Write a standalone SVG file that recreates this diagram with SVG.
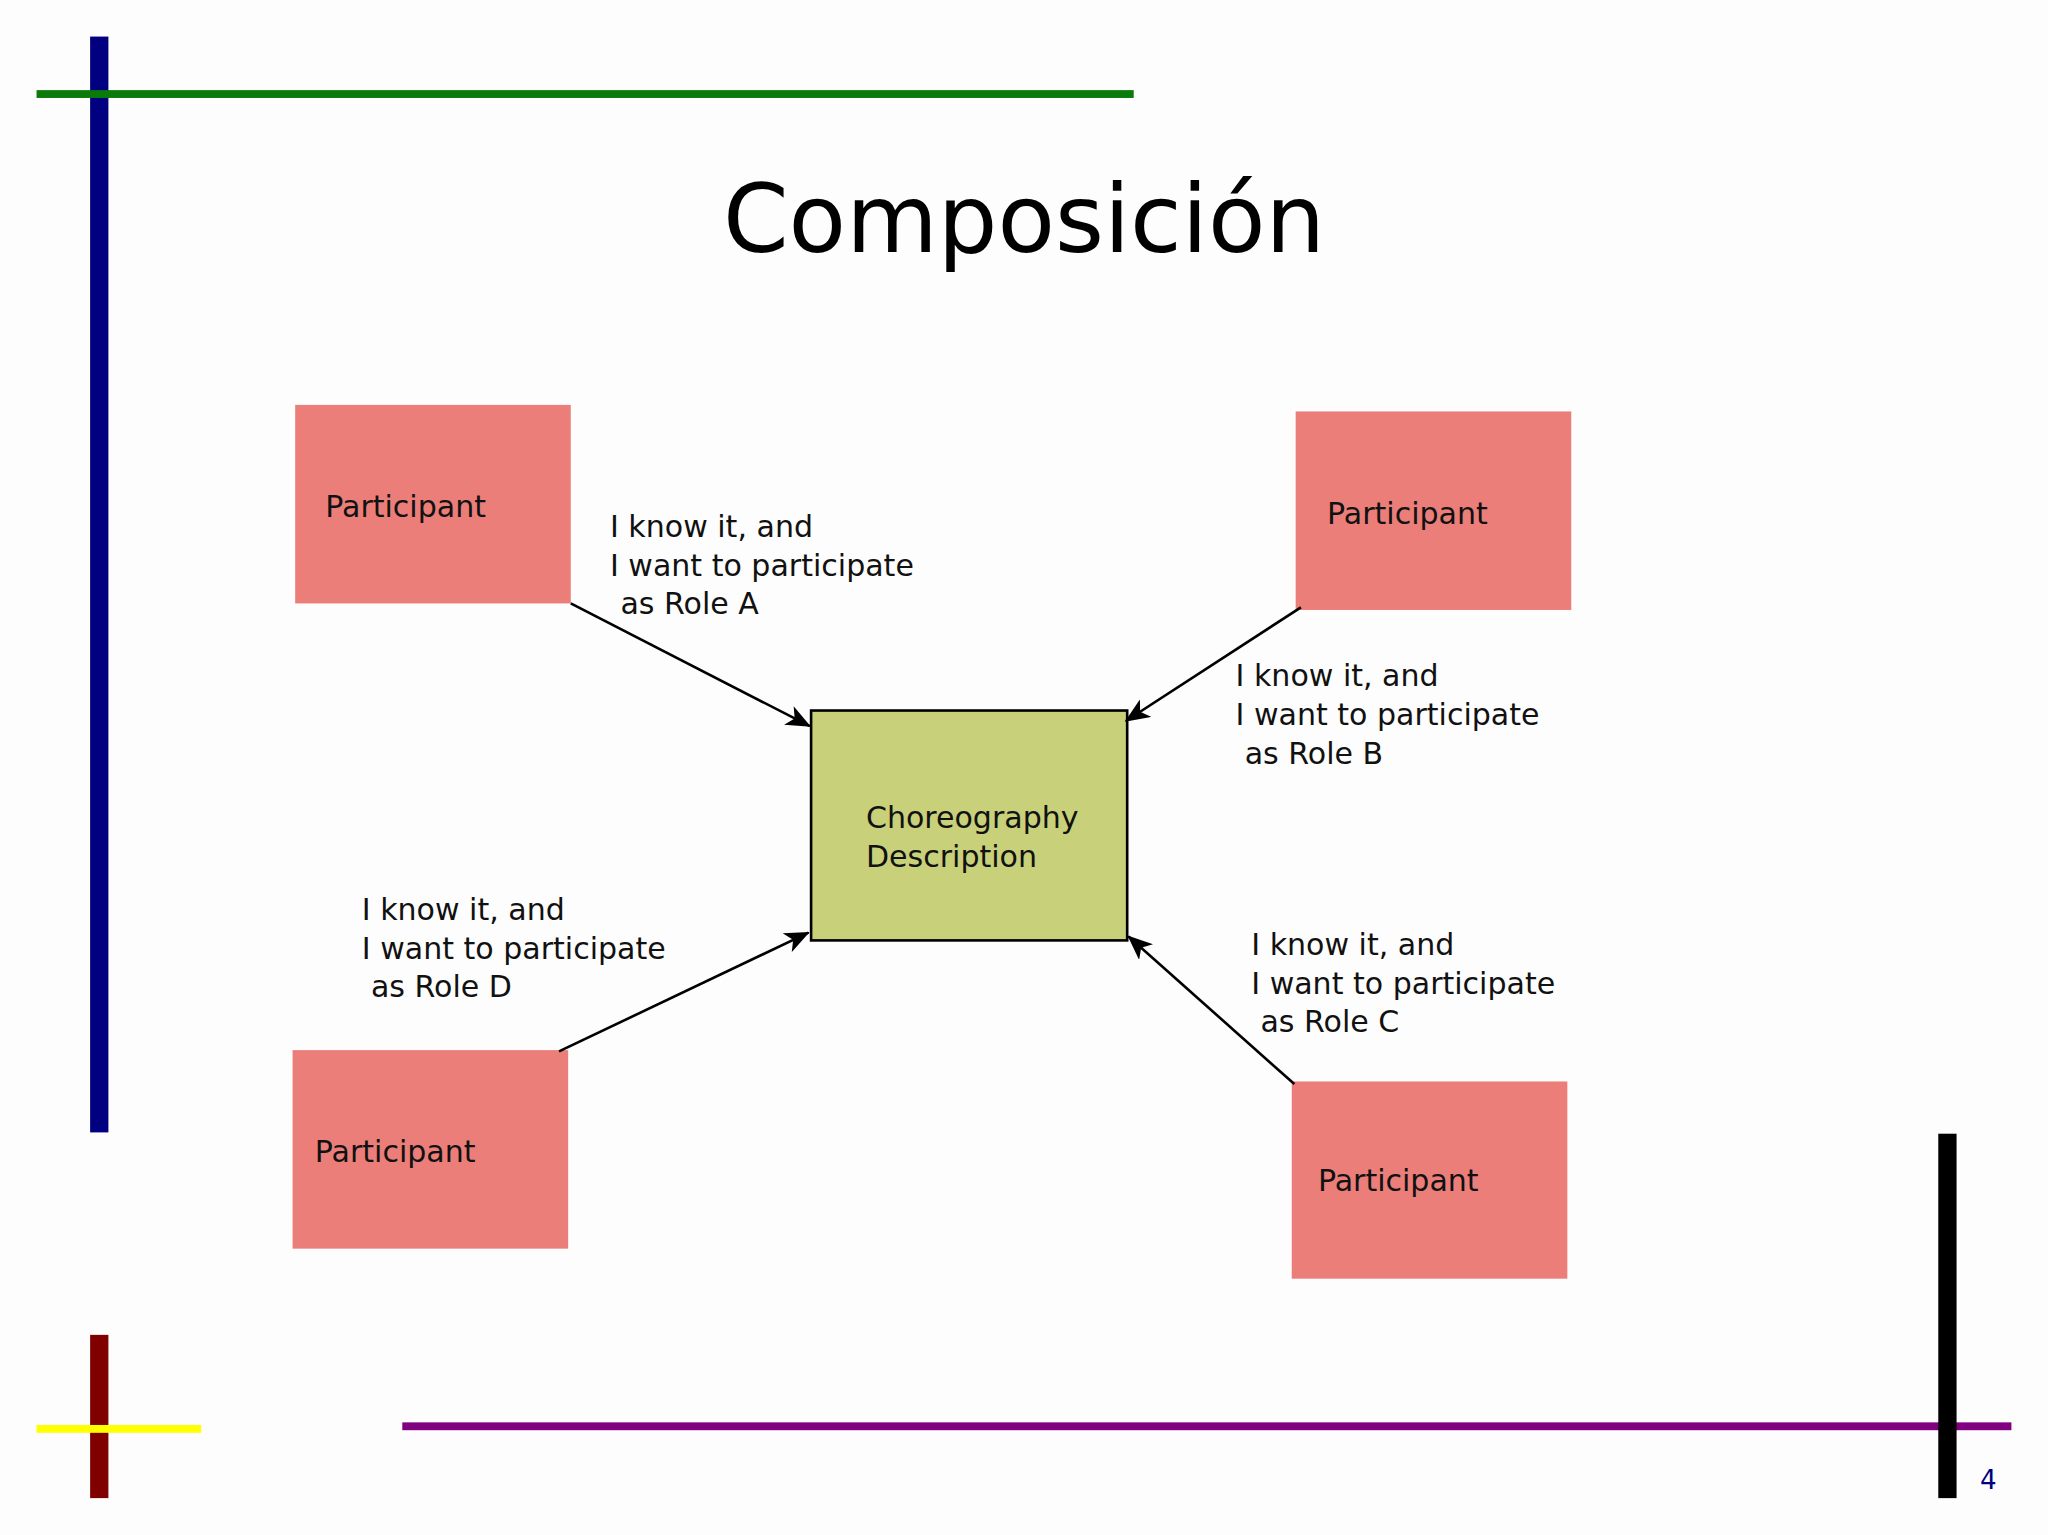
<svg xmlns="http://www.w3.org/2000/svg" width="2048" height="1535" viewBox="0 0 2048 1535">
<style>
.p{fill:#ec7e79}
.t{font-family:"DejaVu Sans",sans-serif;font-size:23px;fill:#111}
.c{stroke:#000;stroke-width:2;fill:none;marker-end:url(#ah)}
</style>
<defs>
<marker id="ah" markerWidth="20" markerHeight="16" refX="18" refY="8" orient="auto" markerUnits="userSpaceOnUse">
<path d="M0,0 L19,8 L0,16 L5,8 Z" fill="#000"/>
</marker>
</defs>
<rect width="2048" height="1535" fill="#fdfdfd"/>
<g transform="scale(1.30612)">
<g id="decor">
<rect x="69" y="28" width="14" height="839" fill="#000080"/>
<rect x="28" y="69" width="840" height="6" fill="#0a7a0a"/>
<rect x="69" y="1022" width="14" height="125" fill="#800000"/>
<rect x="28" y="1091" width="126" height="6" fill="#ffff00"/>
<rect x="308" y="1089" width="1232" height="6" fill="#800080"/>
<rect x="1484" y="868" width="14" height="279" fill="#000"/>
<text x="1516" y="1140" font-family="DejaVu Sans,sans-serif" font-size="20" fill="#000080">4</text>
<text x="784" y="193" text-anchor="middle" font-family="DejaVu Sans,sans-serif" font-size="72" fill="#000">Composición</text>
</g>
<g id="pA"><rect class="p" x="226" y="310" width="211" height="152"/><text class="t" x="249" y="396">Participant</text></g>
<g id="pB"><rect class="p" x="992" y="315" width="211" height="152"/><text class="t" x="1016" y="401">Participant</text></g>
<g id="pD"><rect class="p" x="224" y="804" width="211" height="152"/><text class="t" x="241" y="890">Participant</text></g>
<g id="pC"><rect class="p" x="989" y="828" width="211" height="151"/><text class="t" x="1009" y="912">Participant</text></g>
<g id="center"><rect x="621" y="544" width="242" height="176" fill="#c8d07a" stroke="#000" stroke-width="2"/>
<text class="t" x="663" y="634">Choreography</text><text class="t" x="663" y="664">Description</text></g>
<g id="connectors">
<path class="c" d="M437,462 L620,556"/>
<path class="c" d="M996,465 L862,552"/>
<path class="c" d="M428,805 L619,714"/>
<path class="c" d="M991,830 L864,717"/>
<text class="t" x="467" y="411">I know it, and</text><text class="t" x="467" y="441">I want to participate</text><text class="t" x="475" y="470">as Role A</text>
<text class="t" x="946" y="525">I know it, and</text><text class="t" x="946" y="555">I want to participate</text><text class="t" x="953" y="585">as Role B</text>
<text class="t" x="277" y="704">I know it, and</text><text class="t" x="277" y="734">I want to participate</text><text class="t" x="284" y="763">as Role D</text>
<text class="t" x="958" y="731">I know it, and</text><text class="t" x="958" y="761">I want to participate</text><text class="t" x="965" y="790">as Role C</text>
</g>
</g>
</svg>
